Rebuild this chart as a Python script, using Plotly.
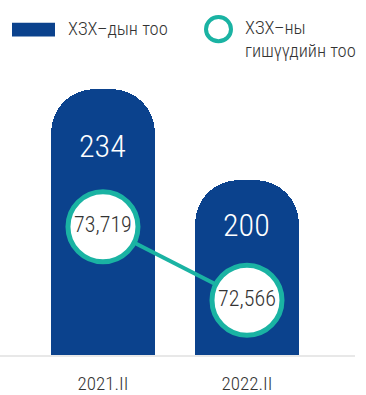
import plotly.graph_objects as go

categories = ["2021.II", "2022.II"]
bar_values = [234, 200]
member_values = [73719, 72566]
bar_name = "ХЗХ–дын тоо"
line_name_1 = "ХЗХ–ны"
line_name_2 = "гишүүдийн тоо"

BLUE = "#0B428D"
TEAL = "#1AB3A3"
FONT = "Roboto Condensed, DejaVu Sans Condensed, Liberation Sans Narrow, Roboto, sans-serif"
W, H = 366, 395
PT, PB, PR = 80, 364, 355  # plot top, plot bottom, plot right (px)

def py(y):
    return (PB - y) / (PB - PT)

fig = go.Figure()
fig.add_trace(go.Bar(
    x=categories, y=bar_values, name=bar_name,
    marker=dict(color=BLUE, cornerradius=44, line=dict(width=0)),
    width=0.722, showlegend=False, hoverinfo="skip",
))
fig.add_trace(go.Scatter(
    x=categories, y=member_values, name=line_name_1 + " " + line_name_2, yaxis="y2",
    mode="lines+markers+text",
    line=dict(color=TEAL, width=4),
    marker=dict(size=70, color="white", line=dict(color=TEAL, width=5)),
    text=[f"{v:,}" for v in member_values], textposition="middle center",
    textfont=dict(family=FONT, size=22, color="#333333", weight=300),
    cliponaxis=False, showlegend=False, hoverinfo="skip",
))

shifts = [-57, -45]
for c, v, s in zip(categories, bar_values, shifts):
    fig.add_annotation(x=c, y=v, text=str(v), showarrow=False, yshift=s,
                       yanchor="middle", font=dict(family=FONT, size=32, color="white", weight=300))

# manual legend
LEG = 18.5
fig.add_shape(type="rect", xref="paper", yref="paper", x0=12/PR, x1=55/PR,
              y0=py(35), y1=py(21), fillcolor=BLUE, line=dict(width=0))
fig.add_annotation(xref="paper", yref="paper", x=66/PR, y=py(27), text=bar_name,
                   showarrow=False, xanchor="left", yanchor="middle",
                   font=dict(family=FONT, size=LEG, color="#333333", weight=300))
fig.add_shape(type="circle", xref="paper", yref="paper", x0=206/PR, x1=231/PR,
              y0=py(40), y1=py(15), fillcolor="white",
              line=dict(color=TEAL, width=4))
fig.add_annotation(xref="paper", yref="paper", x=243/PR, y=py(26), text=line_name_1,
                   showarrow=False, xanchor="left", yanchor="middle",
                   font=dict(family=FONT, size=LEG, color="#333333", weight=300))
fig.add_annotation(xref="paper", yref="paper", x=243/PR, y=py(50.5), text=line_name_2,
                   showarrow=False, xanchor="left", yanchor="middle",
                   font=dict(family=FONT, size=LEG, color="#333333", weight=300))

fig.update_layout(
    width=W, height=H,
    margin=dict(l=0, r=W - PR, t=PT, b=H - PB),
    paper_bgcolor="white", plot_bgcolor="white",
    font=dict(family=FONT, color="#333333"),
    xaxis=dict(range=[-0.715, 1.75], showgrid=False, showline=True, linecolor="#e8e8e8",
               linewidth=2, ticks="", tickfont=dict(size=19, color="#333333", weight=300),
               ticklabelstandoff=10, zeroline=False),
    yaxis=dict(range=[134.5, 237.3], visible=False),
    yaxis2=dict(range=[71708, 76017], overlaying="y", visible=False),
    bargap=0, showlegend=False,
)
fig.write_html("out.html", config={"displayModeBar": False},
               post_script="document.body.style.margin='0';")
